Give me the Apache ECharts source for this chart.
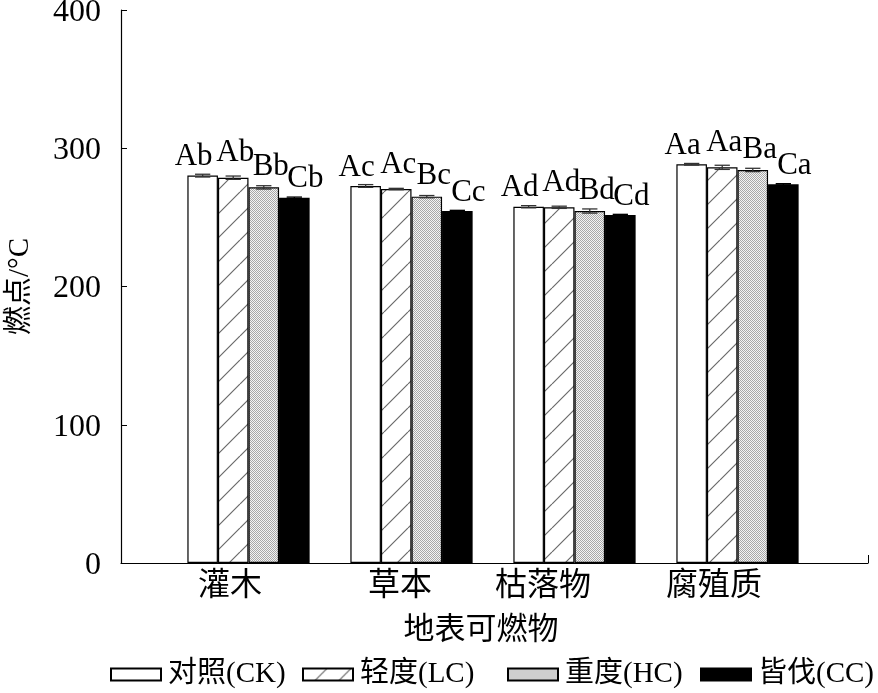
<!DOCTYPE html>
<html><head><meta charset="utf-8">
<script src="https://cdn.jsdelivr.net/npm/echarts@6/dist/echarts.min.js"></script>
<style>html,body{margin:0;padding:0;background:#fff}#c{width:878px;height:693px}</style>
</head><body><div id="c"></div>
<script>
const categories = ['灌木', '草本', '枯落物', '腐殖质'];
const seriesNames = ['对照(CK)', '轻度(LC)', '重度(HC)', '皆伐(CC)'];
const ckValues = [280.2, 272.7, 257.7, 288.4];
const lcValues = [278.7, 270.5, 257.3, 286.2];
const hcValues = [271.7, 265.0, 254.6, 284.3];
const ccValues = [264.2, 254.6, 251.7, 273.9];
const ckErrors = [1.0, 1.0, 0.8, 0.6];
const lcErrors = [1.2, 0.5, 0.8, 1.5];
const hcErrors = [1.2, 0.8, 1.5, 1.2];
const ccErrors = [0.5, 0.5, 0.5, 0.5];
const ckLetters = ['Ab', 'Ac', 'Ad', 'Aa'];
const lcLetters = ['Ab', 'Ac', 'Ad', 'Aa'];
const hcLetters = ['Bb', 'Bc', 'Bd', 'Ba'];
const ccLetters = ['Cb', 'Cc', 'Cd', 'Ca'];
const yTicks = [0, 100, 200, 300, 400];

const valueSets = [ckValues, lcValues, hcValues, ccValues];
const errorSets = [ckErrors, lcErrors, hcErrors, ccErrors];
const letterSets = [ckLetters, lcLetters, hcLetters, ccLetters];

const SERIF = '"Liberation Serif", "Times New Roman", "Noto Sans CJK SC", serif';

function hatchCanvas() {
  const s = 24, c = document.createElement('canvas');
  c.width = s; c.height = s;
  const g = c.getContext('2d');
  g.fillStyle = '#fff'; g.fillRect(0, 0, s, s);
  g.strokeStyle = '#6a6a6a'; g.lineWidth = 1.2;
  g.beginPath();
  for (let k = -1; k <= 1; k++) {
    g.moveTo(k * s, s); g.lineTo(k * s + s, 0);
  }
  g.stroke();
  return c;
}
function dotCanvas() {
  const c = document.createElement('canvas');
  c.width = 2; c.height = 2;
  const g = c.getContext('2d');
  g.fillStyle = '#f4f4f4'; g.fillRect(0, 0, 2, 2);
  g.fillStyle = '#a8a8a8'; g.fillRect(0, 0, 1, 1); g.fillRect(1, 1, 1, 1);
  return c;
}
const fills = [
  '#ffffff',
  { image: hatchCanvas(), repeat: 'repeat' },
  { image: dotCanvas(), repeat: 'repeat' },
  '#000000'
];
const labelOffsets = [[-9, 2], [2, -4], [7, 0], [11, 2]];
const labelShift = [37, 23, 63, 47];
const legendLefts = [105, 297, 502, 695];

const chart = echarts.init(document.getElementById('c'), null, { renderer: 'canvas' });
const barCategoryGap = 0.25;

const series = [];
seriesNames.forEach((name, si) => {
  series.push({
    name: name,
    type: 'bar',
    xAxisIndex: 1, yAxisIndex: 1,
    data: valueSets[si],
    barGap: '0%',
    barCategoryGap: (barCategoryGap * 100) + '%',
    itemStyle: { color: fills[si], borderColor: '#000', borderWidth: 1.2 },
    label: {
      show: true, position: 'top', distance: 5,
      offset: labelOffsets[si],
      formatter: p => letterSets[si][p.dataIndex],
      fontFamily: SERIF, fontSize: 31, color: '#000'
    },
    emphasis: { disabled: true },
    animation: false
  });
});
seriesNames.forEach((name, si) => {
  series.push({
    type: 'custom',
    xAxisIndex: 1, yAxisIndex: 1,
    data: valueSets[si].map((v, i) => [i, v, errorSets[si][i]]),
    encode: { x: 0, y: 1 },
    z: 5,
    renderItem: function (params, api) {
      const idx = api.value(0), v = api.value(1), e = api.value(2);
      const catW = api.size([1, 0])[0];
      const bw = catW * (1 - barCategoryGap) / 4;
      const x = api.coord([idx, v])[0] + (si - 1.5) * bw;
      const yTop = api.coord([idx, v + e])[1];
      const yBot = api.coord([idx, v - e])[1];
      const half = bw * 0.25;
      const style = { stroke: si === 3 ? '#000' : '#333', lineWidth: 1.3 };
      return {
        type: 'group', children: [
          { type: 'line', shape: { x1: x, y1: yTop, x2: x, y2: yBot }, style: style },
          { type: 'line', shape: { x1: x - half, y1: yTop, x2: x + half, y2: yTop }, style: style },
          { type: 'line', shape: { x1: x - half, y1: yBot, x2: x + half, y2: yBot }, style: style }
        ]
      };
    },
    silent: true,
    animation: false
  });
});

const richLabels = {};
categories.forEach((c, i) => {
  richLabels['c' + i] = { fontFamily: SERIF, fontSize: 32, color: '#000', padding: [0, labelShift[i], 0, 0] };
});

const legends = seriesNames.map((n, i) => ({
  data: [n],
  left: legendLefts[i], top: 655,
  icon: 'rect',
  itemWidth: 50, itemHeight: 12,
  textStyle: { fontFamily: SERIF, fontSize: 29, color: '#000', padding: [0, 0, 0, 2] },
  selectedMode: false
}));

chart.setOption({
  animation: false,
  backgroundColor: '#fff',
  grid: [
    { left: 121, right: 10, top: 10, bottom: 130, outerBoundsMode: 'none', containLabel: false },
    { left: 167, width: 652, top: 10, bottom: 130, outerBoundsMode: 'none', containLabel: false }
  ],
  legend: legends,
  xAxis: [
    {
      type: 'value', gridIndex: 0, min: 0, max: 1, interval: 1,
      axisLine: { show: true, lineStyle: { color: '#000', width: 1.2 } },
      axisTick: { show: true, inside: true, length: 8, lineStyle: { color: '#000' } },
      axisLabel: { show: false },
      splitLine: { show: false },
      name: '地表可燃物', nameLocation: 'middle', nameGap: 52,
      nameTextStyle: { fontFamily: SERIF, fontSize: 31, color: '#000', padding: [0, 27, 0, 0] }
    },
    {
      type: 'category', gridIndex: 1, data: categories,
      axisLine: { show: false },
      axisTick: { show: false },
      axisLabel: {
        margin: 8,
        formatter: (v, i) => '{c' + i + '|' + v + '}',
        rich: richLabels
      }
    }
  ],
  yAxis: [
    {
      type: 'value', gridIndex: 0, min: yTicks[0], max: yTicks[yTicks.length - 1], interval: 100,
      axisLine: { show: true, lineStyle: { color: '#000', width: 1.2 } },
      axisTick: { show: true, inside: true, length: 6, lineStyle: { color: '#000' } },
      axisLabel: {
        margin: 20,
        formatter: v => '{v|' + v + '}',
        rich: { v: { fontFamily: SERIF, fontSize: 32, color: '#000', padding: [5, 0, 0, 0] } }
      },
      splitLine: { show: false },
      name: '燃点/°C', nameLocation: 'middle', nameGap: 86,
      nameTextStyle: { fontFamily: SERIF, fontSize: 29, color: '#000' }
    },
    {
      type: 'value', gridIndex: 1, min: 0, max: 400, interval: 100, show: false
    }
  ],
  series: series
});
</script></body></html>
